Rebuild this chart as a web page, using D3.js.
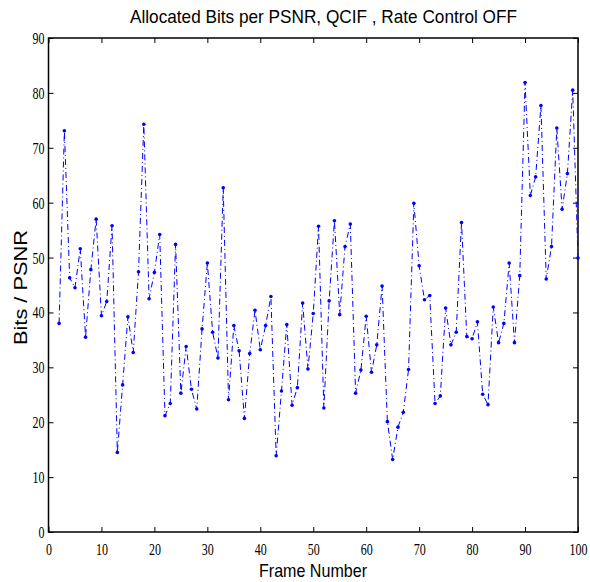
<!DOCTYPE html>
<html>
<head>
<meta charset="utf-8">
<script src="https://cdn.jsdelivr.net/npm/d3@7"></script>
<style>
  body { margin: 0; background: #fff; }
</style>
</head>
<body>
<div id="chart"></div>
<script>
// frame numbers 2..100 and bits/PSNR
const frames = d3.range(2, 101);
const bitsPerPsnr = [
  38.0, 73.1, 46.3, 44.5, 51.6, 35.5, 47.8, 57.0, 39.4, 42.0,
  55.8, 14.5, 26.8, 39.2, 32.7, 47.4, 74.3, 42.5, 47.3, 54.2,
  21.2, 23.4, 52.4, 25.3, 33.8, 26.0, 22.4, 37.0, 49.0, 36.4,
  31.7, 62.7, 24.1, 37.6, 33.0, 20.7, 32.5, 40.4, 33.2, 37.6,
  42.9, 13.9, 25.7, 37.8, 23.1, 26.3, 41.7, 29.7, 39.8, 55.7,
  22.6, 42.1, 56.7, 39.6, 52.0, 56.1, 25.3, 29.5, 39.3, 29.1,
  34.1, 44.8, 20.1, 13.2, 19.1, 21.8, 29.6, 59.9, 48.5, 42.3,
  43.1, 23.4, 24.8, 40.8, 34.1, 36.4, 56.4, 35.6, 35.2, 38.3,
  25.1, 23.2, 41.0, 34.5, 38.0, 49.0, 34.5, 46.7, 81.9, 61.3,
  64.7, 77.7, 46.1, 52.0, 73.6, 58.8, 65.3, 80.5, 49.9
];
const xTicks = d3.range(0, 101, 10);
const yTicks = d3.range(0, 91, 10);

const data = frames.map((f, i) => ({ frame: f, value: bitsPerPsnr[i] }));

const margin = { top: 38, right: 12, bottom: 50, left: 48.5 };
const WIDTH = 590 - margin.left - margin.right;
const HEIGHT = 582 - margin.top - margin.bottom;

const svg = d3.select("#chart")
  .append("svg")
  .attr("width", 590)
  .attr("height", 582);

const g = svg.append("g")
  .attr("transform", `translate(${margin.left},${margin.top})`);

const xScale = d3.scaleLinear().domain([0, 100]).range([0, WIDTH]);
const yScale = d3.scaleLinear().domain([0, 90]).range([HEIGHT, 0]);

const serif = "'Liberation Serif', 'Times New Roman', serif";
const sans = "'Liberation Sans', Arial, sans-serif";

// axes, ticks pointing inward like matlab
const tickStyle = sel => {
  sel.select(".domain").remove();
  sel.selectAll(".tick line").attr("stroke", "#000").attr("stroke-width", 1);
  sel.selectAll(".tick text")
    .attr("font-family", serif)
    .attr("font-size", "17px")
    .attr("fill", "#000")
    .attr("textLength", d => String(d).length * 6)
    .attr("lengthAdjust", "spacingAndGlyphs");
};

g.append("g")
  .attr("transform", `translate(0,${HEIGHT})`)
  .call(d3.axisBottom(xScale).tickValues(xTicks).tickSize(-5).tickPadding(11).tickFormat(d3.format("d")))
  .call(tickStyle);

g.append("g")
  .call(d3.axisTop(xScale).tickValues(xTicks).tickSize(-5).tickFormat(""))
  .call(tickStyle);

g.append("g")
  .call(d3.axisLeft(yScale).tickValues(yTicks).tickSize(-5).tickPadding(4).tickFormat(d3.format("d")))
  .call(tickStyle);

g.append("g")
  .attr("transform", `translate(${WIDTH},0)`)
  .call(d3.axisRight(yScale).tickValues(yTicks).tickSize(-5).tickFormat(""))
  .call(tickStyle);

// box
g.append("rect")
  .attr("width", WIDTH)
  .attr("height", HEIGHT)
  .attr("fill", "none")
  .attr("stroke", "#000")
  .attr("stroke-width", 1.5);

// dash-dot line
const line = d3.line()
  .x(d => xScale(d.frame))
  .y(d => yScale(d.value));

g.append("path")
  .datum(data)
  .attr("d", line)
  .attr("fill", "none")
  .attr("stroke", "#0000ff")
  .attr("stroke-width", 1)
  .attr("stroke-dasharray", "6,3,1,3");

g.selectAll(".pt")
  .data(data)
  .enter()
  .append("circle")
  .attr("class", "pt")
  .attr("cx", d => xScale(d.frame))
  .attr("cy", d => yScale(d.value))
  .attr("r", 1.8)
  .attr("fill", "#0000ff");

// titles (narrow helvetica look)
svg.append("text")
  .attr("x", 130)
  .attr("y", 23)
  .attr("font-family", sans)
  .attr("font-size", "19px")
  .attr("fill", "#000")
  .attr("textLength", 387)
  .attr("lengthAdjust", "spacingAndGlyphs")
  .text("Allocated Bits per PSNR, QCIF , Rate Control OFF");

svg.append("text")
  .attr("x", 259)
  .attr("y", 577)
  .attr("font-family", sans)
  .attr("font-size", "19px")
  .attr("fill", "#000")
  .attr("textLength", 108)
  .attr("lengthAdjust", "spacingAndGlyphs")
  .text("Frame Number");

svg.append("text")
  .attr("transform", "translate(27,345) rotate(-90)")
  .attr("font-family", sans)
  .attr("font-size", "19px")
  .attr("fill", "#000")
  .attr("textLength", 115)
  .attr("lengthAdjust", "spacingAndGlyphs")
  .text("Bits / PSNR");
</script>
</body>
</html>
